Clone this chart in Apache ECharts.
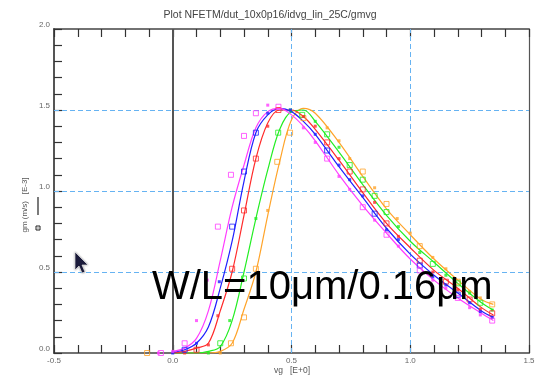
<!DOCTYPE html>
<html>
<head>
<meta charset="utf-8">
<script src="https://cdn.jsdelivr.net/npm/echarts@6/dist/echarts.min.js"></script>
<style>
  html, body { margin: 0; padding: 0; background: #ffffff; }
  #chart { width: 540px; height: 378px; pointer-events: none; }
</style>
</head>
<body>
<div id="chart"></div>
<script>
// Gate voltage grid for the model curves (V)
const vgModel = [0, 0.05, 0.1, 0.15, 0.2, 0.25, 0.3, 0.35, 0.4, 0.45, 0.5, 0.55, 0.6, 0.7, 0.8, 0.9, 1.0, 1.1, 1.2, 1.3, 1.35];

// Model gm curves (mS), one per device
const gmMagenta = [0.01, 0.03, 0.09, 0.26, 0.57, 0.90, 1.16, 1.39, 1.49, 1.51, 1.47, 1.40, 1.31, 1.10, 0.91, 0.74, 0.58, 0.45, 0.34, 0.245, 0.20];
const gmBlue    = [0.005, 0.02, 0.06, 0.16, 0.40, 0.69, 1.06, 1.36, 1.47, 1.51, 1.49, 1.43, 1.35, 1.15, 0.96, 0.77, 0.61, 0.48, 0.37, 0.26, 0.22];
const gmRed     = [0, 0.01, 0.03, 0.06, 0.26, 0.50, 0.85, 1.20, 1.42, 1.50, 1.50, 1.46, 1.38, 1.19, 0.99, 0.80, 0.65, 0.51, 0.40, 0.28, 0.235];
const gmGreen   = [0, 0, 0, 0.01, 0.04, 0.20, 0.50, 0.83, 1.13, 1.38, 1.49, 1.50, 1.43, 1.24, 1.04, 0.85, 0.69, 0.56, 0.43, 0.31, 0.265];
const gmOrange  = [0, 0, 0, 0, 0.01, 0.06, 0.27, 0.50, 0.85, 1.18, 1.44, 1.51, 1.48, 1.30, 1.09, 0.89, 0.73, 0.58, 0.45, 0.33, 0.30];

// Measured points [vg, gm]: open squares and small solid squares
const magentaOpen  = [[-0.05, 0.0], [0.05, 0.06], [0.19, 0.78], [0.245, 1.10], [0.30, 1.34], [0.35, 1.48], [0.445, 1.52], [0.65, 1.20], [0.80, 0.90], [0.90, 0.73], [1.04, 0.51], [1.20, 0.34], [1.345, 0.20]];
const magentaSolid = [[-0.06, 0.0], [0.0, 0.01], [0.10, 0.20], [0.145, 0.45], [0.40, 1.53], [0.55, 1.39], [0.60, 1.30], [0.70, 1.09], [0.745, 1.01], [0.85, 0.82], [0.95, 0.66], [1.095, 0.45], [1.15, 0.40], [1.25, 0.28], [1.295, 0.235]];
const blueOpen     = [[0.05, 0.02], [0.25, 0.78], [0.30, 1.12], [0.35, 1.36], [0.65, 1.25], [0.85, 0.86], [1.04, 0.54], [1.20, 0.36]];
const blueSolid    = [[0.0, 0.0], [0.10, 0.06], [0.196, 0.44], [0.40, 1.48], [0.495, 1.50], [0.60, 1.35], [0.70, 1.16], [0.745, 1.07], [0.80, 0.97], [0.90, 0.76], [0.95, 0.70], [1.095, 0.47], [1.15, 0.42], [1.25, 0.31], [1.295, 0.255], [1.345, 0.22]];
const redOpen      = [[0.10, 0.02], [0.25, 0.52], [0.30, 0.88], [0.35, 1.20], [0.445, 1.50], [0.65, 1.30], [0.745, 1.12], [0.80, 1.01], [0.90, 0.80], [1.04, 0.57], [1.15, 0.44], [1.25, 0.33], [1.345, 0.245]];
const redSolid     = [[0.05, 0.0], [0.15, 0.05], [0.19, 0.23], [0.40, 1.40], [0.55, 1.46], [0.60, 1.40], [0.70, 1.20], [0.85, 0.93], [0.95, 0.72], [1.095, 0.50], [1.20, 0.39], [1.295, 0.27]];
const greenOpen    = [[0.20, 0.06], [0.30, 0.46], [0.444, 1.36], [0.545, 1.47], [0.65, 1.35], [0.745, 1.16], [0.80, 1.07], [0.85, 0.97], [0.90, 0.87], [1.095, 0.55], [1.20, 0.43], [1.295, 0.31]];
const greenSolid   = [[0.15, 0.0], [0.24, 0.20], [0.35, 0.83], [0.495, 1.50], [0.60, 1.43], [0.70, 1.27], [0.95, 0.78], [1.04, 0.62], [1.15, 0.48], [1.25, 0.37], [1.345, 0.265]];
const orangeOpen   = [[-0.108, 0.0], [0.245, 0.06], [0.30, 0.22], [0.35, 0.52], [0.44, 1.18], [0.494, 1.36], [0.55, 1.45], [0.80, 1.12], [0.90, 0.92], [1.04, 0.66], [1.20, 0.44], [1.345, 0.30]];
const orangeSolid  = [[0.20, 0.0], [0.40, 0.88], [0.65, 1.39], [0.70, 1.31], [0.745, 1.20], [0.85, 1.02], [0.945, 0.83], [1.00, 0.74], [1.095, 0.59], [1.15, 0.52], [1.25, 0.38], [1.295, 0.34]];

// Axis tick labels and dashed reference grid positions
const xTicks = [-0.5, 0.0, 0.5, 1.0, 1.5];
const yTicks = [0.0, 0.5, 1.0, 1.5, 2.0];
const gridX = [0.5, 1.0];
const gridY = [0.5, 1.0, 1.5];
const zeroX = 0;

const titleText = 'Plot NFETM/dut_10x0p16/idvg_lin_25C/gmvg';
const xName = 'vg   [E+0]';
const yName = 'gm (m/s)   [E-3]';
const noteText = 'W/L=10\u03bcm/0.16\u03bcm';

const devices = [
  { color: '#ffa42a', model: gmOrange,  open: orangeOpen,  solid: orangeSolid },
  { color: '#22ee22', model: gmGreen,   open: greenOpen,   solid: greenSolid },
  { color: '#ff2a2a', model: gmRed,     open: redOpen,     solid: redSolid },
  { color: '#1f1fff', model: gmBlue,    open: blueOpen,    solid: blueSolid },
  { color: '#ff3cff', model: gmMagenta, open: magentaOpen, solid: magentaSolid }
];

const FONT = 'Liberation Sans, Arial, sans-serif';
const gridBlue = '#66b3f2';
const dashStyle = { color: gridBlue, type: [5, 3], width: 1 };

// reference lines: dashed grid plus the solid vg = 0 line
const refLines = []
  .concat(gridX.map(function (v) { return { xAxis: v, lineStyle: dashStyle }; }))
  .concat(gridY.map(function (v) { return { yAxis: v, lineStyle: dashStyle }; }))
  .concat([{ xAxis: zeroX, lineStyle: { color: '#555555', type: 'solid', width: 2 } }]);

const series = [];
devices.forEach(function (d, i) {
  const line = {
    type: 'line',
    silent: true,
    data: vgModel.map(function (v, k) { return [v, d.model[k]]; }),
    smooth: 0.35,
    showSymbol: false,
    lineStyle: { color: d.color, width: 1.2 },
    emphasis: { disabled: true },
    z: 6
  };
  if (i === 0) {
    // drawn above any axis decoration, below the curves
    line.markLine = {
      silent: true,
      symbol: 'none',
      label: { show: false },
      emphasis: { disabled: true },
      data: refLines,
      z: 5
    };
  }
  series.push(line);
  series.push({
    type: 'scatter',
    silent: true,
    data: d.open,
    symbol: 'rect',
    symbolSize: 5,
    itemStyle: { color: 'rgba(255,255,255,0)', borderColor: d.color, borderWidth: 1 },
    emphasis: { disabled: true },
    z: 7
  });
  series.push({
    type: 'scatter',
    silent: true,
    data: d.solid,
    symbol: 'rect',
    symbolSize: 3,
    itemStyle: { color: d.color },
    emphasis: { disabled: true },
    z: 7
  });
});

const tickStyle = { color: '#333333', width: 1.2 };
const labelStyle = { color: '#666666', fontSize: 8, fontFamily: FONT };

const option = {
  animation: false,
  backgroundColor: '#ffffff',
  title: {
    text: titleText,
    left: 'center',
    top: 5,
    textStyle: { fontSize: 10.5, fontWeight: 'normal', color: '#444444', fontFamily: FONT }
  },
  grid: { left: 54, right: 11, top: 29, bottom: 25, outerBoundsMode: 'none', containLabel: false },
  xAxis: [{
    type: 'value',
    min: -0.5, max: 1.5, interval: 0.5,
    axisLine: { onZero: false, lineStyle: { color: '#444444', width: 1.5 } },
    axisTick: { inside: true, length: 8, lineStyle: tickStyle },
    minorTick: { show: true, splitNumber: 5, length: 8, lineStyle: tickStyle },
    axisLabel: {
      margin: 4,
      color: labelStyle.color, fontSize: labelStyle.fontSize, fontFamily: labelStyle.fontFamily,
      showMinLabel: true, showMaxLabel: true,
      formatter: function (v) {
        const t = xTicks.find(function (x) { return Math.abs(x - v) < 1e-9; });
        return t === undefined ? '' : t.toFixed(1);
      }
    },
    splitLine: { show: false }
  }, {
    type: 'value',
    position: 'top',
    min: -0.5, max: 1.5, interval: 0.5,
    axisLine: { show: true, onZero: false, lineStyle: { color: '#444444', width: 1.5 } },
    axisTick: { show: true, inside: true, length: 8, lineStyle: tickStyle },
    minorTick: { show: true, splitNumber: 5, length: 8, lineStyle: tickStyle },
    axisLabel: { show: false },
    splitLine: { show: false }
  }],
  yAxis: [{
    type: 'value',
    min: 0, max: 2, interval: 0.5,
    axisLine: { show: true, onZero: false, lineStyle: { color: '#555555', width: 2 } },
    axisTick: { show: true, inside: true, length: 8, lineStyle: tickStyle },
    minorTick: { show: true, splitNumber: 5, length: 8, lineStyle: tickStyle },
    axisLabel: {
      margin: 4,
      verticalAlign: 'bottom',
      color: labelStyle.color, fontSize: labelStyle.fontSize, fontFamily: labelStyle.fontFamily,
      formatter: function (v) {
        const t = yTicks.find(function (y) { return Math.abs(y - v) < 1e-9; });
        return t === undefined ? '' : t.toFixed(1);
      }
    },
    splitLine: { show: false }
  }, {
    type: 'value',
    position: 'right',
    min: 0, max: 2, interval: 0.5,
    axisLine: { show: true, onZero: false, lineStyle: { color: '#555555', width: 1.2 } },
    axisTick: { show: false },
    axisLabel: { show: false },
    splitLine: { show: false }
  }],
  series: series,
  graphic: [
    {
      type: 'text',
      silent: true,
      x: 292, y: 371,
      style: {
        text: xName,
        align: 'center', verticalAlign: 'middle',
        fill: '#555555', fontSize: 8.5, fontFamily: FONT
      }
    },
    {
      type: 'text',
      silent: true,
      x: 25, y: 205,
      rotation: Math.PI / 2,
      style: {
        text: yName,
        align: 'center', verticalAlign: 'middle',
        fill: '#555555', fontSize: 8, fontFamily: FONT
      }
    },
    {
      type: 'line',
      silent: true,
      shape: { x1: 38, y1: 197, x2: 38, y2: 215 },
      style: { stroke: '#222222', lineWidth: 1.2 }
    },
    {
      type: 'rect',
      silent: true,
      shape: { x: 36, y: 226, width: 4, height: 4 },
      style: { fill: '#ffffff', stroke: '#222222', lineWidth: 1 }
    },
    {
      type: 'rect',
      silent: true,
      shape: { x: 37.5, y: 227.5, width: 1, height: 1 },
      style: { fill: '#222222' }
    },
    {
      type: 'text',
      silent: true,
      x: 152, y: 288,
      style: {
        text: noteText,
        align: 'left', verticalAlign: 'middle',
        fill: '#000000', fontSize: 40, fontFamily: FONT
      },
      z: 100
    },
    {
      // mouse pointer
      type: 'polygon',
      silent: true,
      shape: { points: [[75, 252], [75, 270], [79, 266], [82, 273], [85, 272], [82, 265], [88, 265]] },
      style: { fill: '#1c1c3c', stroke: '#ffffff', lineWidth: 0.6, shadowBlur: 2, shadowColor: 'rgba(0,0,0,0.4)' },
      z: 100
    }
  ]
};

const chart = echarts.init(document.getElementById('chart'), null, { renderer: 'canvas' });
chart.setOption(option);
</script>
</body>
</html>
